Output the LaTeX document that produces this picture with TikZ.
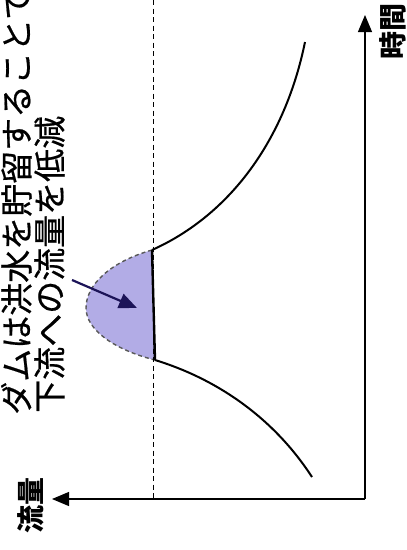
\documentclass[tikz,border=0pt]{standalone}
\usepackage{fontspec}
\setmainfont{Noto Sans CJK JP}
\newfontfamily\notefont[FakeBold=0.6]{Noto Sans CJK JP}
\usetikzlibrary{arrows.meta}
\definecolor{damfill}{RGB}{178,172,230}
\definecolor{navy}{RGB}{28,20,88}
\tikzset{
  axisline/.style={line width=1.2pt,-{Triangle[length=17pt,width=14pt]}},
  flowcurve/.style={line width=2pt},
  guide/.style={line width=1pt,dash pattern=on 5pt off 3.5pt},
  storage/.style={draw=black!65,line width=1.4pt,dash pattern=on 4pt off 3pt},
  cutline/.style={line width=2.4pt},
  pointer/.style={navy,line width=2.2pt,-{Triangle[length=18pt,width=15pt]}},
  notetext/.style={inner sep=0pt,rotate=90,anchor=base west,font=\notefont\fontsize{33}{36}\selectfont},
  axislabel/.style={inner sep=0pt,rotate=90,font=\fontsize{28}{30}\selectfont\bfseries}
}
\begin{document}
\begin{tikzpicture}[x=1pt,y=-1pt]
\useasboundingbox (0,0) rectangle (407,550);
\clip (0,0) rectangle (407,550);
% coordinates
\coordinate (origin) at (365,499);
\coordinate (timeend) at (365,15);
\coordinate (flowend) at (52,499);
\coordinate (guidetop) at (153,0);
\coordinate (guidebot) at (153,499);
\coordinate (cuttop) at (152,250);
\coordinate (cutbot) at (155,360);
\coordinate (peak) at (86,308);
\coordinate (risetop) at (305,42);
\coordinate (fallend) at (312,477);
\coordinate (ptrstart) at (72,280);
\coordinate (ptrend) at (137,308);
% storage region
\path[fill=damfill] (cuttop) .. controls (110,262) and (86,285) .. (peak)
  .. controls (86,330) and (115,350) .. (cutbot) -- cycle;
\draw[storage] (cuttop) .. controls (110,262) and (86,285) .. (peak)
  .. controls (86,330) and (115,350) .. (cutbot);
% guide line
\draw[guide] (guidetop) -- (guidebot);
% axes
\draw[axisline] (origin) -- (timeend);
\draw[axisline] (origin) -- (flowend);
% hydrograph
\draw[flowcurve] (cuttop) .. controls (230,215) and (285,140) .. (risetop);
\draw[flowcurve] (cutbot) .. controls (220,380) and (275,420) .. (fallend);
\draw[cutline] (cuttop) -- (cutbot);
% pointer
\draw[pointer] (ptrstart) -- (ptrend);
% texts
\node[notetext] (line1) at (29,415) {ダムは洪水を貯留することで};
\node[notetext] (line2) at (62,413) {下流への流量を低減};
\node[axislabel] (flowlabel) at (31,505) {流量};
\node[axislabel] (timelabel) at (393,31) {時間};
\end{tikzpicture}
\end{document}
